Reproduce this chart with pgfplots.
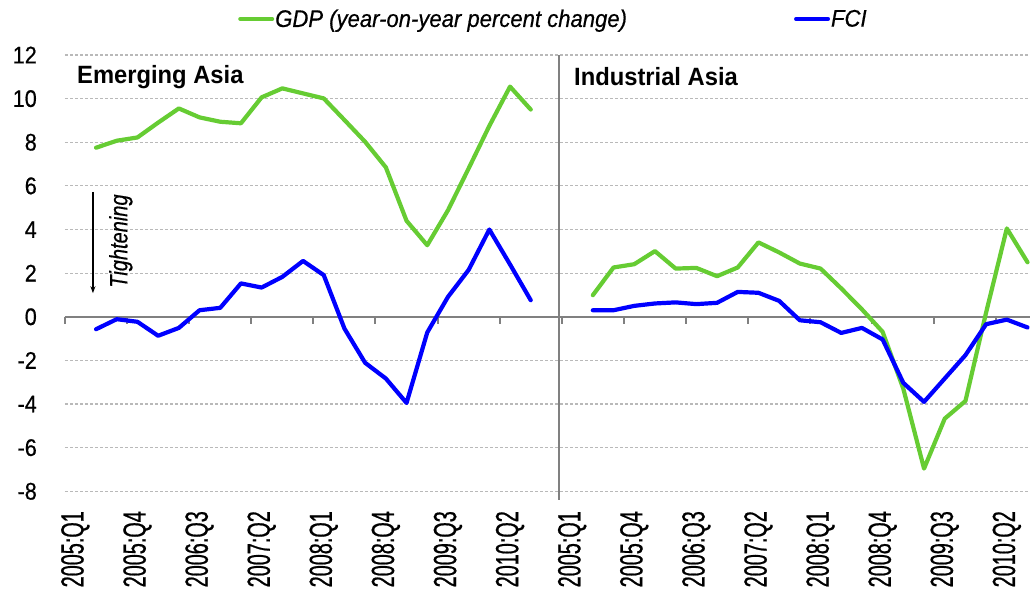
\documentclass[border=0pt]{standalone}
\usepackage{pgfplots}
\pgfplotsset{compat=1.18}
\usetikzlibrary{arrows.meta}
\usepackage{fontspec}
\setmainfont{Liberation Sans}
\newfontfamily\ytf{Liberation Sans}[FakeStretch=0.9,FakeBold=0.6]
\newfontfamily\xtf{Liberation Sans}[FakeStretch=0.62,FakeBold=0.6]
\newfontfamily\lgf{Liberation Sans}[FakeStretch=0.92,FakeBold=0.5]
\newfontfamily\ttf{Liberation Sans}[FakeStretch=0.95]
\newfontfamily\tif{Liberation Sans}[FakeStretch=0.8,FakeBold=0.5]
\definecolor{gdpgreen}{RGB}{102,204,51}
\definecolor{fciblue}{RGB}{0,0,255}
\definecolor{gridgray}{RGB}{185,185,185}
\definecolor{axgray}{RGB}{128,128,128}
\begin{document}
\begin{tikzpicture}
\useasboundingbox (-65pt,-102.7pt) rectangle (965pt,491.3pt);
\begin{axis}[
  at={(0pt,0pt)}, anchor=south west,
  scale only axis, width=965pt, height=436.3pt,
  xmin=0, xmax=46.62, ymin=-8, ymax=12,
  clip=false,
  axis line style={draw=none},
  major tick length=0pt,
  ytick={-8,-6,...,12},
  yticklabels={-8,-6,-4,-2,0,2,4,6,8,10,12},
  ymajorgrids,
  major grid style={gridgray, line width=1.2pt, dash pattern=on 3pt off 2pt},
  yticklabel style={font=\ytf\fontsize{24}{24}\selectfont, anchor=east, inner sep=0pt},
  yticklabel shift=28pt,
  xtick={0.5,3.5,...,45.5},
  xticklabels={2005:Q1,2005:Q4,2006:Q3,2007:Q2,2008:Q1,2008:Q4,2009:Q3,2010:Q2,2005:Q1,2005:Q4,2006:Q3,2007:Q2,2008:Q1,2008:Q4,2009:Q3,2010:Q2},
  xticklabel style={font=\xtf\fontsize{32}{32}\selectfont, rotate=90, anchor=east, inner sep=0pt},
  xticklabel shift=19.7pt,
  legend style={at={(axis description cs:0.1793,1)}, anchor=west, yshift=36pt,
    draw=none, fill=none, inner sep=0pt,
    font=\lgf\fontsize{24}{24}\selectfont\itshape,
    legend columns=2, nodes={inner sep=1pt},
    /tikz/every even column/.append style={column sep=166pt}},
  legend image code/.code={\draw[#1, line width=4pt] (0pt,0pt) -- (32pt,0pt);},
  every axis plot/.append style={line width=4.2pt, line join=round, line cap=round},
]
% zero line, ticks, separator
\draw[axgray, line width=2pt] (axis cs:0,0) -- (axis cs:46.62,0);
\pgfplotsinvokeforeach{0,3,...,45}{\draw[axgray, line width=2pt] (axis cs:#1,0) -- ++(0pt,-7pt);}
\draw[axgray, line width=2pt] (axis cs:23.88,12) -- (axis cs:23.88,-8) -- ++(0pt,-9pt);

% Emerging Asia
\addplot[gdpgreen] coordinates {
(1.5,7.75) (2.5,8.07) (3.5,8.22) (4.5,8.9) (5.5,9.55) (6.5,9.14) (7.5,8.94) (8.5,8.87)
(9.5,10.06) (10.5,10.47) (11.5,10.24) (12.5,10.01) (13.5,9.02) (14.5,8.02) (15.5,6.85)
(16.5,4.40) (17.5,3.28) (18.5,4.88) (19.5,6.8) (20.5,8.75) (21.5,10.55) (22.5,9.5)};
\addlegendentry{GDP (year-on-year percent change)}
\addplot[fciblue] coordinates {
(1.5,-0.57) (2.5,-0.11) (3.5,-0.23) (4.5,-0.87) (5.5,-0.51) (6.5,0.30) (7.5,0.41) (8.5,1.53)
(9.5,1.34) (10.5,1.83) (11.5,2.56) (12.5,1.91) (13.5,-0.54) (14.5,-2.11) (15.5,-2.83)
(16.5,-3.95) (17.5,-0.72) (18.5,0.91) (19.5,2.15) (20.5,4.0) (21.5,2.4) (22.5,0.76)};
\addlegendentry{FCI}
% Industrial Asia
\addplot[gdpgreen, forget plot] coordinates {
(25.5,0.99) (26.5,2.26) (27.5,2.41) (28.5,3.01) (29.5,2.21) (30.5,2.24) (31.5,1.86) (32.5,2.26)
(33.5,3.41) (34.5,2.95) (35.5,2.44) (36.5,2.21) (37.5,1.3) (38.5,0.34) (39.5,-0.69)
(40.5,-3.3) (41.5,-6.96) (42.5,-4.67) (43.5,-3.86) (44.5,0.2) (45.5,4.05) (46.5,2.5)};
\addplot[fciblue, forget plot] coordinates {
(25.5,0.30) (26.5,0.30) (27.5,0.50) (28.5,0.61) (29.5,0.66) (30.5,0.58) (31.5,0.64) (32.5,1.14)
(33.5,1.10) (34.5,0.73) (35.5,-0.16) (36.5,-0.25) (37.5,-0.74) (38.5,-0.51) (39.5,-1.04)
(40.5,-3.03) (41.5,-3.90) (42.5,-2.83) (43.5,-1.76) (44.5,-0.34) (45.5,-0.13) (46.5,-0.49)};

\node[anchor=west, inner sep=0pt, font=\ttf\fontsize{25}{25}\selectfont\bfseries] at (axis cs:0.58,11) {Emerging Asia};
\node[anchor=west, inner sep=0pt, font=\ttf\fontsize{25}{25}\selectfont\bfseries] at (axis cs:24.59,11) {Industrial Asia};
\draw[black, line width=1.2pt, -{Stealth[length=7pt,width=5pt]}] (axis cs:1.35,5.72) -- (axis cs:1.35,1.08);
\node[rotate=90, inner sep=0pt, font=\tif\fontsize{25}{25}\selectfont\itshape] at (axis cs:2.7,3.47) {Tightening};
\end{axis}
\end{tikzpicture}
\end{document}
